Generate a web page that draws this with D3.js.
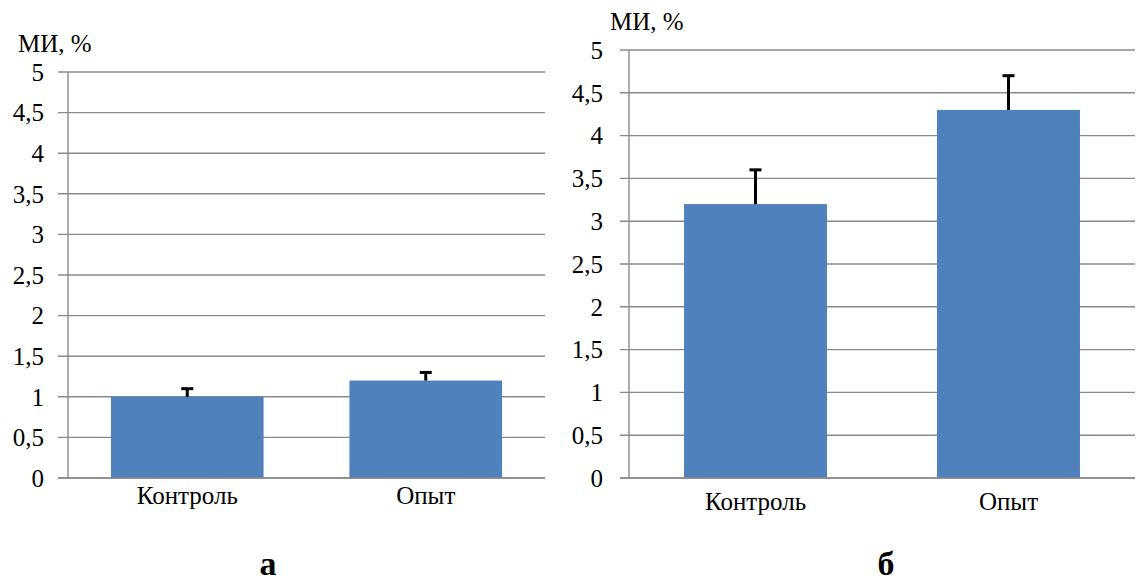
<!DOCTYPE html>
<html>
<head>
<meta charset="utf-8">
<script src="https://cdn.jsdelivr.net/npm/d3@7"></script>
<style>
  html, body { margin: 0; padding: 0; background: #ffffff; }
  svg { display: block; }
</style>
</head>
<body>
<svg id="chart" width="1137" height="581"></svg>
<script>
// ---- data ----
const categories = ["Контроль", "Опыт"];
const valuesA = [1.0, 1.2];
const errorsA = [0.1, 0.1];
const valuesB = [3.2, 4.3];
const errorsB = [0.4, 0.4];
const yTicks = [0, 0.5, 1, 1.5, 2, 2.5, 3, 3.5, 4, 4.5, 5];
const yAxisTitle = "МИ, %";
const panelLabels = ["а", "б"];

const FONT = "'Liberation Serif', 'Times New Roman', serif";
const svg = d3.select("#chart");
const fmt = v => String(v).replace(".", ",");

function drawPanel(opts) {
  const { x0, x1, yTop, yBottom, values, errors, pad, tickLen, labelGap, titleX, titleY, catY, panelLabel, panelX } = opts;
  const g = svg.append("g");
  const x = d3.scaleBand().domain(categories).range([x0, x1]).paddingInner(pad).paddingOuter(pad / 2);
  const y = d3.scaleLinear().domain([0, 5]).range([yBottom, yTop]);

  g.selectAll("line.grid").data(yTicks).enter().append("line")
    .attr("x1", x0 - tickLen).attr("x2", x1)
    .attr("y1", d => y(d)).attr("y2", d => y(d))
    .attr("stroke", "#8a8a8a").attr("stroke-width", 1.4);

  g.append("line").attr("x1", x0).attr("x2", x0).attr("y1", y(5)).attr("y2", y(0))
    .attr("stroke", "#8a8a8a").attr("stroke-width", 1.4);

  g.selectAll("text.ytick").data(yTicks).enter().append("text")
    .attr("x", x0 - tickLen - labelGap).attr("y", d => y(d))
    .attr("dy", "0.35em").attr("text-anchor", "end")
    .style("font-family", FONT).style("font-size", "25px").attr("fill", "#000").text(d => fmt(d));

  g.selectAll("rect.bar").data(categories).enter().append("rect")
    .attr("x", d => x(d)).attr("width", x.bandwidth())
    .attr("y", (d, i) => y(values[i])).attr("height", (d, i) => y(0) - y(values[i]))
    .attr("fill", "#4f81bd");

  g.append("line").attr("x1", x0 - tickLen).attr("x2", x1).attr("y1", y(0)).attr("y2", y(0))
    .attr("stroke", "#8a8a8a").attr("stroke-width", 1.4);

  categories.forEach((c, i) => {
    const cx = x(c) + x.bandwidth() / 2;
    g.append("line").attr("x1", cx).attr("x2", cx)
      .attr("y1", y(values[i])).attr("y2", y(values[i] + errors[i]))
      .attr("stroke", "#000").attr("stroke-width", 3);
    g.append("line").attr("x1", cx - 6).attr("x2", cx + 6)
      .attr("y1", y(values[i] + errors[i])).attr("y2", y(values[i] + errors[i]))
      .attr("stroke", "#000").attr("stroke-width", 3);
  });

  g.selectAll("text.cat").data(categories).enter().append("text")
    .attr("x", d => x(d) + x.bandwidth() / 2).attr("y", catY)
    .attr("text-anchor", "middle")
    .style("font-family", FONT).style("font-size", "25px").attr("fill", "#000").text(d => d);

  g.append("text").attr("x", titleX).attr("y", titleY)
    .style("font-family", FONT).style("font-size", "25px").attr("fill", "#000").text(yAxisTitle);

  g.append("text").attr("x", panelX).attr("y", 575).attr("text-anchor", "middle")
    .style("font-family", FONT).style("font-size", "34px").style("font-weight", "bold").attr("fill", "#000")
    .text(panelLabel);
}

drawPanel({ x0: 68, x1: 545, yTop: 72, yBottom: 478, values: valuesA, errors: errorsA, pad: 0.36,
  tickLen: 10, labelGap: 14, titleX: 18, titleY: 52, catY: 504, panelLabel: panelLabels[0], panelX: 268 });
drawPanel({ x0: 629, x1: 1135, yTop: 50, yBottom: 478, values: valuesB, errors: errorsB, pad: 0.435,
  tickLen: 9, labelGap: 17, titleX: 610, titleY: 30, catY: 510, panelLabel: panelLabels[1], panelX: 886 });
</script>
</body>
</html>
